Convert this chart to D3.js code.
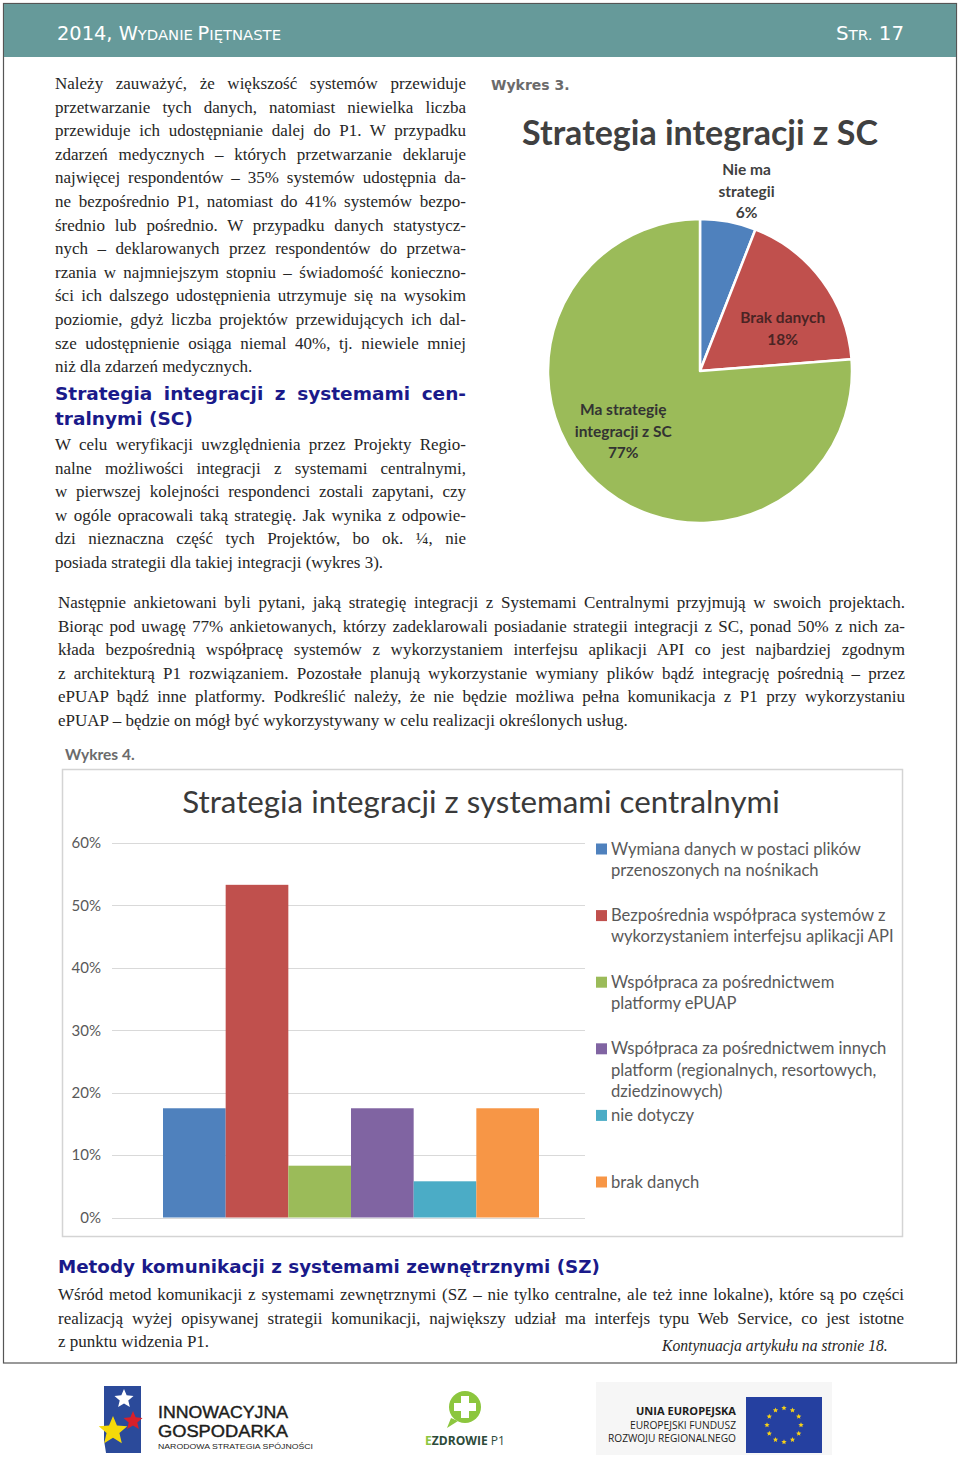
<!DOCTYPE html>
<html><head><meta charset="utf-8">
<script src="https://cdn.jsdelivr.net/npm/d3@7"></script>
<style>body{margin:0;background:#fff}svg{display:block}</style>
</head><body>
<svg id="page" width="960" height="1460"></svg>
<script>
// ---------- DATA ----------
const pieCategories = ["Nie ma strategii", "Brak danych", "Ma strategię integracji z SC"];
const pieLabelLines = [["Nie ma", "strategii"], ["Brak danych"], ["Ma strategię", "integracji z SC"]];
const pieValues = [6, 18, 77];

const barCategories = [
  "Wymiana danych w postaci plików przenoszonych na nośnikach",
  "Bezpośrednia współpraca systemów z wykorzystaniem interfejsu aplikacji API",
  "Współpraca za pośrednictwem platformy ePUAP",
  "Współpraca za pośrednictwem innych platform (regionalnych, resortowych, dziedzinowych)",
  "nie dotyczy",
  "brak danych"
];
const legendLines = [
  ["Wymiana danych w postaci plików", "przenoszonych na nośnikach"],
  ["Bezpośrednia współpraca systemów z", "wykorzystaniem interfejsu aplikacji API"],
  ["Współpraca za pośrednictwem", "platformy ePUAP"],
  ["Współpraca za pośrednictwem innych", "platform (regionalnych, resortowych,", "dziedzinowych)"],
  ["nie dotyczy"],
  ["brak danych"]
];
const barValues = [0.175, 0.533, 0.083, 0.175, 0.058, 0.175];
const yTicks = [0, 0.1, 0.2, 0.3, 0.4, 0.5, 0.6];

const pieColors = ["#4f81bd", "#c0504d", "#9bbb59"];
const barColors = ["#4f81bd", "#c0504d", "#9bbb59", "#8064a2", "#4bacc6", "#f79646"];

// ---------- TEXT ----------
const leftPara1 = [
  "Należy zauważyć, że większość systemów przewiduje",
  "przetwarzanie tych danych, natomiast niewielka liczba",
  "przewiduje ich udostępnianie dalej do P1. W przypadku",
  "zdarzeń medycznych – których przetwarzanie deklaruje",
  "najwięcej respondentów – 35% systemów udostępnia da-",
  "ne bezpośrednio P1, natomiast do 41% systemów bezpo-",
  "średnio lub pośrednio. W przypadku danych statystycz-",
  "nych – deklarowanych przez respondentów do przetwa-",
  "rzania w najmniejszym stopniu – świadomość konieczno-",
  "ści ich dalszego udostępnienia utrzymuje się na wysokim",
  "poziomie, gdyż liczba projektów przewidujących ich dal-",
  "sze udostępnienie osiąga niemal 40%, tj. niewiele mniej",
  "niż dla zdarzeń medycznych."
];
const heading1 = ["Strategia integracji z systemami cen-", "tralnymi (SC)"];
const leftPara2 = [
  "W celu weryfikacji uwzględnienia przez Projekty Regio-",
  "nalne możliwości integracji z systemami centralnymi,",
  "w pierwszej kolejności respondenci zostali zapytani, czy",
  "w ogóle opracowali taką strategię. Jak wynika z odpowie-",
  "dzi nieznaczna część tych Projektów, bo ok. ¼, nie",
  "posiada strategii dla takiej integracji (wykres 3)."
];
const widePara = [
  "Następnie ankietowani byli pytani, jaką strategię integracji z Systemami Centralnymi przyjmują w swoich projektach.",
  "Biorąc pod uwagę 77% ankietowanych, którzy zadeklarowali posiadanie strategii integracji z SC, ponad 50% z nich za-",
  "kłada bezpośrednią współpracę systemów z wykorzystaniem interfejsu aplikacji API co jest najbardziej zgodnym",
  "z architekturą P1 rozwiązaniem. Pozostałe planują wykorzystanie wymiany plików bądź integrację pośrednią – przez",
  "ePUAP bądź inne platformy. Podkreślić należy, że nie będzie możliwa pełna komunikacja z P1 przy wykorzystaniu",
  "ePUAP – będzie on mógł być wykorzystywany w celu realizacji określonych usług."
];
const heading2 = "Metody komunikacji z systemami zewnętrznymi (SZ)";
const lastPara = [
  "Wśród metod komunikacji z systemami zewnętrznymi (SZ – nie tylko centralne, ale też inne lokalne), które są po części",
  "realizacją wyżej opisywanej strategii komunikacji, największy udział ma interfejs typu Web Service, co jest istotne",
  "z punktu widzenia P1."
];

// ---------- DRAW ----------
const svg = d3.select("#page");
const SERIF = "'Liberation Serif','Times New Roman',serif";
const SANS = "Lato,'Open Sans',sans-serif";
const VERD = "'DejaVu Sans',Verdana,sans-serif";
const BODY = "#262626", NAVY = "#1a1a8a";

function line(str, x, y, o = {}) {
  const t = svg.append("text").attr("x", x).attr("y", y)
    .attr("font-family", o.family || SERIF).attr("font-size", o.size || 17)
    .attr("fill", o.fill || BODY).attr("font-weight", o.weight || "normal")
    .attr("font-style", o.style || "normal")
    .attr("text-anchor", o.anchor || "start").text(str);
  if (o.target) {
    const w = t.node().getComputedTextLength();
    const n = (str.match(/ /g) || []).length;
    if (o.justify && n > 0) {
      t.attr("word-spacing", (o.target - w) / n);
      const w2 = t.node().getComputedTextLength();
      if (Math.abs(w2 - o.target) > 2) t.attr("word-spacing", null).attr("textLength", o.target).attr("lengthAdjust", "spacing");
    } else if (o.fit) {
      t.attr("font-size", (o.size || 17) * o.target / w);
    }
  }
  return t;
}
function paragraph(lines, x, y0, step, width, o = {}) {
  lines.forEach((s, i) => {
    const last = i === lines.length - 1;
    line(s, x, y0 + i * step, Object.assign({}, o, last ? {} : { target: width, justify: true }));
  });
}

// page frame + header
svg.append("rect").attr("x", 3.5).attr("y", 3.5).attr("width", 953).attr("height", 1359.5)
  .attr("fill", "#fff").attr("stroke", "#555").attr("stroke-width", 1.2);
svg.append("rect").attr("x", 4).attr("y", 4).attr("width", 952).attr("height", 53).attr("fill", "#669a9a");
function smallCaps(parts, x, y, target) {
  const t = svg.append("text").attr("x", x).attr("y", y).attr("font-family", VERD).attr("fill", "#fff");
  parts.forEach(p => t.append("tspan").attr("font-size", p[1] ? 19 : 14.5).text(p[0]));
  t.attr("textLength", target).attr("lengthAdjust", "spacingAndGlyphs");
  return t;
}
smallCaps([["2014, W", 1], ["YDANIE ", 0], ["P", 1], ["IĘTNASTE", 0]], 57, 40, 224);
smallCaps([["S", 1], ["TR.", 0], [" 17", 1]], 836, 40, 68);

// left column
paragraph(leftPara1, 55, 89, 23.6, 411, { size: 17 });
paragraph(heading1, 55, 400, 25, 411, { family: VERD, weight: "bold", size: 18.5, fill: NAVY });
paragraph(leftPara2, 55, 450, 23.6, 411, { size: 17 });

// ---------- PIE (Wykres 3) ----------
line("Wykres 3.", 491, 90, { family: VERD, weight: "bold", size: 14, fill: "#6b6b6b" });
line("Strategia integracji z SC", 700, 145, { family: SANS, weight: "bold", size: 32, fill: "#404040", anchor: "middle", target: 356, fit: true });

const pcx = 700, pcy = 371, R = 152;
const pieG = svg.append("g").attr("transform", `translate(${pcx},${pcy})`);
const arcs = d3.pie().sort(null).value(d => d)(pieValues);
const arcGen = d3.arc().innerRadius(0).outerRadius(R);
pieG.selectAll("path").data(arcs).join("path")
  .attr("d", arcGen).attr("fill", (d, i) => pieColors[i])
  .attr("stroke", "#fff").attr("stroke-width", 2.5).attr("stroke-linejoin", "round");
const labelPlace = [{ t: 0.68, r: 1.22 }, { t: 0.65, r: 0.61 }, { t: 0.532, r: 0.645 }];
const labelFill = ["#404040", "#4a2424", "#333"];
arcs.forEach((a, i) => {
  const ang = a.startAngle + (a.endAngle - a.startAngle) * labelPlace[i].t;
  const rr = R * labelPlace[i].r;
  const cx = Math.sin(ang) * rr, cy = -Math.cos(ang) * rr;
  const lines = pieLabelLines[i].concat([a.data + "%"]);
  const n = lines.length;
  lines.forEach((s, j) => {
    pieG.append("text").attr("x", cx).attr("y", cy + 5 + (j - (n - 1) / 2) * 21.5)
      .attr("text-anchor", "middle").attr("font-family", SANS).attr("font-weight", "bold")
      .attr("font-size", 15.5).attr("fill", labelFill[i]).text(s);
  });
});

// wide paragraph
paragraph(widePara, 58, 608, 23.6, 847, { size: 17 });

// ---------- BAR (Wykres 4) ----------
line("Wykres 4.", 65, 760, { family: SANS, weight: "bold", size: 15.5, fill: "#6b6b6b" });
svg.append("rect").attr("x", 62.5).attr("y", 769.5).attr("width", 840).attr("height", 467)
  .attr("fill", "#fff").attr("stroke", "#d4d4d4").attr("stroke-width", 1.5);
line("Strategia integracji z systemami centralnymi", 481, 813, { family: SANS, size: 28, fill: "#3a3a3a", anchor: "middle", target: 598, fit: true });

const plotL = 112, plotR = 585, plotT = 843, plotB = 1217.5;
const y = d3.scaleLinear().domain([0, 0.6]).range([plotB, plotT]);
const groupW = 376, groupC = (plotL + plotR) / 2 + 2.5;
const x = d3.scaleBand().domain(barCategories).range([groupC - groupW / 2, groupC + groupW / 2]).padding(0);

svg.append("g").selectAll("line").data(yTicks).join("line")
  .attr("x1", plotL).attr("x2", plotR).attr("y1", d => Math.round(y(d)) + 0.5).attr("y2", d => Math.round(y(d)) + 0.5)
  .attr("stroke", "#d9d9d9").attr("stroke-width", 1);
const yAxis = svg.append("g").attr("transform", `translate(${plotL},0)`)
  .call(d3.axisLeft(y).tickValues(yTicks).tickFormat(d3.format(".0%")).tickSize(0).tickPadding(11));
yAxis.select(".domain").remove();
yAxis.selectAll("text").attr("font-family", SANS).attr("font-size", 15).attr("fill", "#595959");

svg.append("g").selectAll("rect").data(barValues).join("rect")
  .attr("x", (d, i) => x(barCategories[i])).attr("width", x.bandwidth())
  .attr("y", d => y(d)).attr("height", d => y(0) - y(d))
  .attr("fill", (d, i) => barColors[i]);

const legY = d3.scaleLinear().domain([0, barCategories.length - 1]).range([849, 1182]);
const leg = svg.append("g");
barCategories.forEach((c, i) => {
  leg.append("rect").attr("x", 596).attr("y", legY(i) - 5.5).attr("width", 11).attr("height", 11).attr("fill", barColors[i]);
  legendLines[i].forEach((s, j) => {
    leg.append("text").attr("x", 611).attr("y", legY(i) + 5.5 + j * 21.3)
      .attr("font-family", SANS).attr("font-size", 16.6).attr("fill", "#595959").text(s);
  });
});

// heading 2 + last paragraph
line(heading2, 58, 1273, { family: VERD, weight: "bold", size: 18, fill: NAVY, target: 542, fit: true });
paragraph(lastPara, 58, 1300, 23.6, 846, { size: 17 });
line("Kontynuacja artykułu  na stronie 18.", 662, 1351, { size: 17, style: "italic", target: 226, fit: true });

// ---------- FOOTER LOGOS ----------
const f = svg.append("g");
function star(cx, cy, r, fill) {
  const pts = d3.range(10).map(k => {
    const a = -Math.PI / 2 + k * Math.PI / 5, rr = k % 2 ? r * 0.45 : r;
    return [cx + rr * Math.cos(a), cy + rr * Math.sin(a)];
  });
  f.append("polygon").attr("points", pts.map(p => p.join(",")).join(" ")).attr("fill", fill);
}
// logo 1
f.append("path").attr("d", "M104,1386 L141,1386 L141,1453 L106,1453 L104,1440 Z").attr("fill", "#2b4a9a");
star(124, 1399, 10, "#ffffff");
star(133, 1421, 10, "#d7202a");
star(113, 1431, 15, "#f5d90a");
[["INNOWACYJNA", 1418, 16, 130, "normal"], ["GOSPODARKA", 1437, 16, 130, "normal"], ["NARODOWA STRATEGIA SPÓJNOŚCI", 1449, 7.5, 155, "normal"]].forEach(r => {
  f.append("text").attr("x", 158).attr("y", r[1]).attr("font-family", "'Liberation Sans',Arial,sans-serif")
    .attr("font-size", r[2]).attr("font-weight", r[4]).attr("fill", "#1d1d1b")
    .attr("stroke", r[2] > 10 ? "#1d1d1b" : "none").attr("stroke-width", 0.4).text(r[0])
    .attr("textLength", r[3]).attr("lengthAdjust", "spacingAndGlyphs");
});
// logo 2
f.append("circle").attr("cx", 465).attr("cy", 1407).attr("r", 16).attr("fill", "#8cc63e");
f.append("path").attr("d", "M451,1418 L447,1428 L458,1421 Z").attr("fill", "#8cc63e");
f.append("rect").attr("x", 461).attr("y", 1396).attr("width", 8).attr("height", 22).attr("fill", "#fff");
f.append("rect").attr("x", 454).attr("y", 1403).attr("width", 22).attr("height", 8).attr("fill", "#fff");
const ez = f.append("text").attr("x", 425).attr("y", 1445).attr("font-family", "'Open Sans',sans-serif").attr("font-weight", "bold").attr("font-size", 12);
ez.append("tspan").attr("fill", "#8cc63e").text("E");
ez.append("tspan").attr("fill", "#2d4b3a").text("ZDROWIE ");
ez.append("tspan").attr("fill", "#2d4b3a").attr("font-weight", "normal").text("P1");
ez.attr("textLength", 80).attr("lengthAdjust", "spacingAndGlyphs");
// logo 3
f.append("rect").attr("x", 596).attr("y", 1382).attr("width", 236).attr("height", 73).attr("fill", "#f6f6f6");
[["UNIA EUROPEJSKA", 1415, "bold", 100], ["EUROPEJSKI FUNDUSZ", 1429, "normal", 106], ["ROZWOJU REGIONALNEGO", 1442, "normal", 128]].forEach(r => {
  f.append("text").attr("x", 736).attr("y", r[1]).attr("text-anchor", "end").attr("font-family", "'Open Sans',sans-serif")
    .attr("font-size", 11).attr("font-weight", r[2]).attr("fill", "#1d1d1b").text(r[0])
    .attr("textLength", r[3]).attr("lengthAdjust", "spacingAndGlyphs");
});
f.append("rect").attr("x", 746).attr("y", 1397).attr("width", 76).attr("height", 56).attr("fill", "#2540a0");
d3.range(12).forEach(k => {
  const a = k * Math.PI / 6;
  star(784 + 17 * Math.cos(a), 1425 + 17 * Math.sin(a), 2.8, "#f7d117");
});
</script>
</body></html>
